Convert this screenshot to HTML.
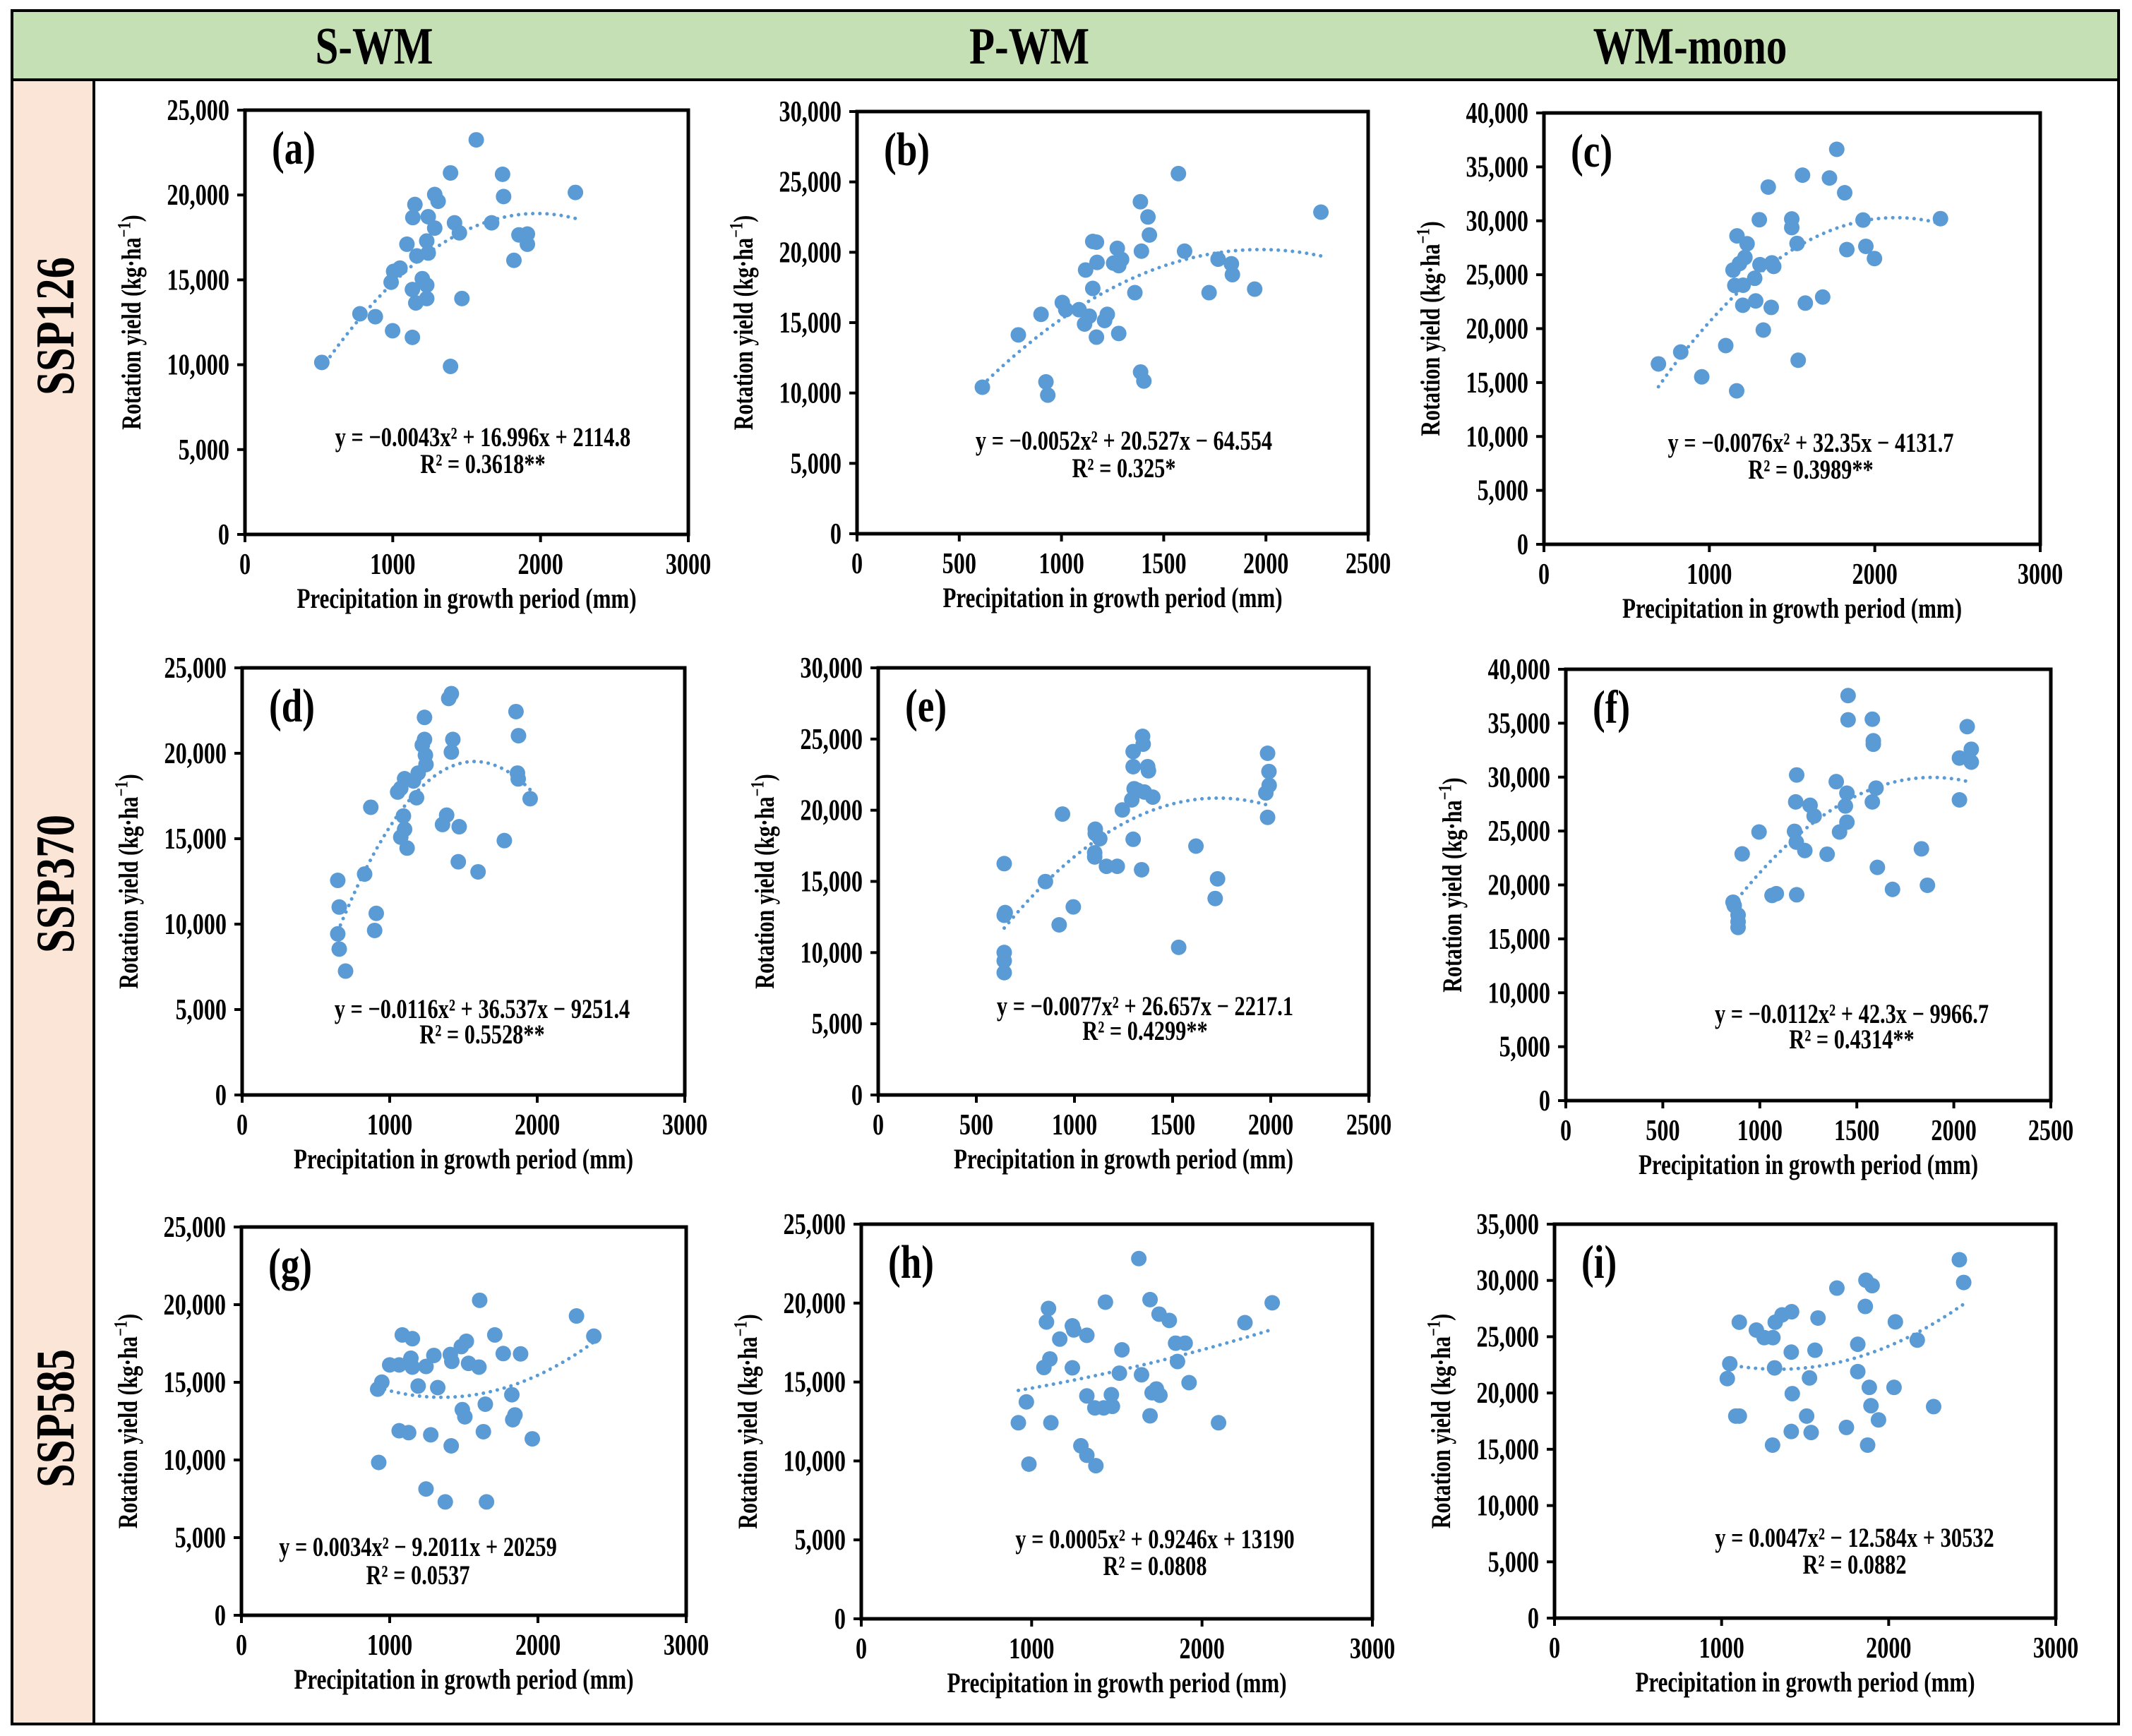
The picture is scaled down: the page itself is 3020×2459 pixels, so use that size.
<!DOCTYPE html>
<html><head><meta charset="utf-8">
<style>
html,body{margin:0;padding:0;background:#fff;}
svg{display:block;font-family:"Liberation Serif",serif;font-weight:bold;}
</style></head>
<body>
<svg id="fig" width="3020" height="2459" viewBox="0 0 3020 2459" xmlns="http://www.w3.org/2000/svg">
<rect x="0" y="0" width="3020" height="2459" fill="#fff"/>
<rect x="17" y="15" width="2984" height="98" fill="#c5e0b4"/>
<rect x="17" y="113" width="116" height="2329" fill="#fbe5d6"/>
<rect x="17" y="15" width="2984" height="2427" fill="none" stroke="#000" stroke-width="4"/>
<line x1="17" y1="113" x2="3001" y2="113" stroke="#000" stroke-width="4"/>
<line x1="133" y1="113" x2="133" y2="2442" stroke="#000" stroke-width="4"/>
<text transform="translate(530,90) scale(0.95,1.2)" font-size="62" text-anchor="middle">S-WM</text>
<text transform="translate(1458,90) scale(0.95,1.2)" font-size="62" text-anchor="middle">P-WM</text>
<text transform="translate(2394,90) scale(0.95,1.2)" font-size="62" text-anchor="middle">WM-mono</text>
<text transform="translate(104,462) rotate(-90) scale(0.95,1.2)" font-size="64" text-anchor="middle">SSP126</text>
<text transform="translate(104,1252) rotate(-90) scale(0.95,1.2)" font-size="64" text-anchor="middle">SSP370</text>
<text transform="translate(104,2009) rotate(-90) scale(0.95,1.2)" font-size="64" text-anchor="middle">SSP585</text>
<g id="panels"></g>
</svg>
<script>
// ---- data (precipitation mm, rotation yield kg/ha) ----
const aX=[520,778,882,999,989,1006,1049,1096,1136,1150,1133,1156,1133,1163,1200,1230,1230,1230,1240,1240,1284,1284,1307,1391,1391,1418,1451,1468,1565,1669,1743,1750,1820,1854,1911,1911,2236];
const aY=[10136,13000,12830,12000,14860,15500,15690,17100,18670,19440,14430,13640,11610,16410,15070,14690,13900,17290,16580,18720,20030,18050,19630,21300,9900,18360,17770,13900,23250,18360,21220,19910,16150,17650,17700,17100,20150];
const bX=[613,789,900,924,933,1004,1021,1086,1118,1113,1136,1153,1153,1171,1174,1171,1211,1224,1255,1273,1280,1294,1280,1359,1386,1391,1387,1403,1423,1430,1572,1602,1722,1766,1831,1836,1945,2269];
const bY=[10410,14130,15590,10790,9850,16430,15920,15920,18740,14900,15460,17430,20770,20720,19280,13970,15150,15590,19230,20280,19050,19490,14230,17130,23590,20080,11490,10850,22510,21230,25590,20080,17130,19510,19180,18410,17380,22850];
const cX=[692,827,954,1099,1165,1143,1154,1204,1167,1182,1215,1228,1202,1274,1280,1302,1306,1326,1356,1378,1389,1374,1498,1498,1530,1537,1563,1580,1685,1726,1770,1818,1831,1929,1946,1998,2397];
const cY=[16730,17830,15530,18430,14230,25430,24000,24030,28600,26030,26600,27870,22170,24670,22570,30100,25930,19870,33130,26100,25770,21970,30170,29370,27900,17070,34230,22370,22930,33970,36630,32600,27330,30070,27630,26500,30200];
const dX=[648,658,648,658,701,830,872,909,898,1054,1075,1101,1093,1101,1075,1118,1161,1193,1182,1221,1236,1236,1242,1246,1358,1386,1400,1418,1418,1428,1471,1465,1599,1777,1856,1873,1866,1871,1952];
const dY=[12560,11000,9430,8540,7250,12930,16840,10630,9630,17730,17950,18510,16330,15550,15090,14450,18380,18840,17400,20480,20810,22100,19890,19340,15830,16380,23210,23490,20070,20810,15700,13650,13060,14890,22440,21030,18840,18500,17340];
const eX=[642,642,647,642,642,642,852,922,939,994,1103,1103,1106,1106,1129,1163,1218,1244,1292,1299,1299,1299,1304,1321,1342,1347,1350,1356,1373,1377,1399,1531,1619,1729,1717,1984,1991,1992,1975,1984];
const eY=[16250,12620,12810,10010,9420,8590,14990,11950,19730,13210,17010,16720,18670,18360,18000,16060,16060,20020,20730,24120,23060,17960,21510,21400,15820,25190,24640,21280,23060,22770,20920,10370,17480,15180,13800,24000,22720,21750,21210,19500];
const fX=[862,868,888,888,888,909,996,1063,1085,1190,1179,1188,1232,1185,1190,1259,1280,1347,1394,1411,1441,1449,1449,1455,1455,1580,1580,1585,1585,1599,1606,1684,1833,1864,2029,2029,2069,2090,2090];
const fY=[18400,18090,17210,16590,16060,22880,24910,19030,19190,19090,24970,23970,23190,27700,30200,27390,26390,22850,29580,24910,27320,28510,25820,37560,35310,27700,35370,33370,33050,28980,21630,19590,23350,19970,27890,31770,34680,32580,31390];
const gX=[919,947,926,1000,1064,1085,1064,1128,1153,1143,1153,1192,1245,1245,1277,1298,1324,1375,1409,1419,1415,1483,1517,1490,1507,1532,1602,1607,1645,1632,1653,1709,1766,1824,1845,1830,1883,1962,2260,2377];
const gY=[14560,15010,9840,16120,16120,18050,11880,11760,17810,16550,15980,14760,16020,8130,11620,16730,14660,7300,16790,16350,10910,17300,17640,13240,12780,16220,15980,20280,13590,11820,7300,18050,16850,14200,12900,12590,16830,11360,19270,17970];
const hX=[922,969,984,1072,1107,1087,1099,1113,1165,1239,1239,1247,1289,1324,1324,1324,1371,1377,1423,1433,1468,1474,1515,1530,1629,1645,1695,1695,1707,1732,1753,1748,1808,1845,1856,1901,1924,2097,2252,2412];
const hY=[12420,13740,9800,15920,16460,18800,19660,12420,17720,15900,18560,18300,10960,10360,14120,17960,13360,9700,13360,20060,14200,13460,15560,17040,22820,15460,20220,12860,14320,14560,14160,19300,18900,17460,16300,17460,14960,12420,18760,20020];
const iX=[1034,1049,1085,1106,1106,1208,1255,1307,1305,1317,1321,1362,1419,1417,1423,1417,1509,1526,1536,1559,1577,1690,1747,1815,1815,1860,1864,1901,1884,1894,1874,1939,2032,2040,2171,2269,2423,2449];
const iY=[21280,22600,17950,17950,26290,25590,24920,24920,15370,22230,26290,26940,27220,23630,19940,16580,17950,21340,16490,23800,26660,29320,16940,24330,21900,27690,30020,29540,20500,18870,15370,17610,20500,26320,24700,18790,31840,29820];
// trend coefficients [a,b,c] for y = a x^2 + b x + c
const aFit=[-0.0043,16.996,2114.8], bFit=[-0.0052,20.527,-64.554], cFit=[-0.0076,32.35,-4131.7];
const dFit=[-0.0116,36.537,-9251.4], eFit=[-0.0077,26.657,-2217.1], fFit=[-0.0112,42.3,-9966.7];
const gFit=[0.0034,-9.2011,20259], hFit=[0.0005,0.9246,13190], iFit=[0.0047,-12.584,30532];
// axis ranges
const xMaxes=[3000,2500,3000,3000,2500,2500,3000,3000,3000];
const yMaxes=[25000,30000,40000,25000,30000,40000,25000,25000,35000];
const labels=["(a)","(b)","(c)","(d)","(e)","(f)","(g)","(h)","(i)"];
const eqs=["y = \u22120.0043x\u00b2 + 16.996x + 2114.8","y = \u22120.0052x\u00b2 + 20.527x \u2212 64.554","y = \u22120.0076x\u00b2 + 32.35x \u2212 4131.7",
"y = \u22120.0116x\u00b2 + 36.537x \u2212 9251.4","y = \u22120.0077x\u00b2 + 26.657x \u2212 2217.1","y = \u22120.0112x\u00b2 + 42.3x \u2212 9966.7",
"y = 0.0034x\u00b2 \u2212 9.2011x + 20259","y = 0.0005x\u00b2 + 0.9246x + 13190","y = 0.0047x\u00b2 \u2212 12.584x + 30532"];
const r2s=["R\u00b2 = 0.3618**","R\u00b2 = 0.325*","R\u00b2 = 0.3989**","R\u00b2 = 0.5528**","R\u00b2 = 0.4299**","R\u00b2 = 0.4314**","R\u00b2 = 0.0537","R\u00b2 = 0.0808","R\u00b2 = 0.0882"];

// layout (pixel geometry, not data)
const boxes=[[347,156,975,757],[1214,158,1938,756],[2187,160,2890,771],
[343,946,970,1551],[1244,946,1939,1551],[2218,948,2905,1559],
[342,1738,972,2288],[1220,1734,1944,2293],[2202,1734,2912,2292]];
const eqPos=[[684,619,657],[1592,624,663],[2565,627,665],[683,1429,1465],[1622,1425,1460],[2623,1436,1472],[592,2191,2231],[1636,2180,2218],[2627,2178,2216]];
const XS=[aX,bX,cX,dX,eX,fX,gX,hX,iX], YS=[aY,bY,cY,dY,eY,fY,gY,hY,iY], FITS=[aFit,bFit,cFit,dFit,eFit,fFit,gFit,hFit,iFit];
const NS="http://www.w3.org/2000/svg";
const root=document.getElementById('panels');
function mk(tag,attrs,parent){const e=document.createElementNS(NS,tag);for(const k in attrs)e.setAttribute(k,attrs[k]);parent.appendChild(e);return e;}
function st(x,y,sx,sy,extra){return 'translate('+x+','+y+')'+(extra||'')+' scale('+sx+','+sy+')';}
const BLUE="#5b9bd5";
for(let p=0;p<9;p++){
  const [L,T,R,B]=boxes[p]; const xm=xMaxes[p], ym=yMaxes[p];
  const sx=v=>L+(v/xm)*(R-L), sy=v=>B-(v/ym)*(B-T);
  const g=mk('g',{},root);
  
  
  for(let v=0;v<=ym;v+=5000){
    const y=sy(v);
    const t=mk('line',{x1:L-11,y1:y,x2:L,y2:y,stroke:'#000','stroke-width':4},g);
    
    
    const tx=mk('text',{transform:st(L-22,y+14,0.92,1.22),'font-size':35,'text-anchor':'end'},g);
    
    
    tx.textContent=v.toLocaleString('en-US');
  }
  const xstep=xm===2500?500:1000;
  for(let v=0;v<=xm;v+=xstep){
    const x=sx(v);
    const t=mk('line',{x1:x,y1:B,x2:x,y2:B+11,stroke:'#000','stroke-width':4},g);
    
    
    const tx=mk('text',{transform:st(x,B+56,0.92,1.22),'font-size':35,'text-anchor':'middle'},g);
    
    
    tx.textContent=String(v);
  }
  const box=mk('rect',{x:L,y:T,width:R-L,height:B-T,fill:'none',stroke:'#000','stroke-width':5},g);
  
  
  const xt=mk('text',{transform:st((L+R)/2,B+104,0.94,1.22),'font-size':33,'text-anchor':'middle'},g);
  
  
  xt.textContent='Precipitation in growth period (mm)';
  const yt=mk('text',{transform:st(L-148,(T+B)/2,0.94,1.22,' rotate(-90)'),'font-size':32,'text-anchor':'middle'},g);
  
  
  yt.innerHTML='Rotation yield (kg\u00b7ha<tspan dy="-12" font-size="22">\u22121</tspan><tspan dy="12">)</tspan>';
  const lb=mk('text',{transform:st(L+38,T+76,0.95,1.2),'font-size':56},g);
  
  
  lb.textContent=labels[p];
  const xs=XS[p], ys=YS[p];
  for(let k=0;k<xs.length;k++){
    const c=mk('circle',{cx:sx(xs[k]),cy:sy(ys[k]),r:11,fill:BLUE},g);
    
    
  }
  const f=FITS[p]; const x0=Math.min(...xs), x1=Math.max(...xs);
  let d='';
  for(let k=0;k<=80;k++){const x=x0+(x1-x0)*k/80;const y=f[0]*x*x+f[1]*x+f[2];d+=(k?'L':'M')+sx(x).toFixed(1)+','+sy(y).toFixed(1);}
  const tl=mk('path',{d:d,fill:'none',stroke:BLUE,'stroke-width':5,'stroke-dasharray':'0.1 10','stroke-linecap':'round'},g);
  
  
  const ep=eqPos[p];
  const e1=mk('text',{transform:st(ep[0],ep[1]+13,0.95,1.22),'font-size':32,'text-anchor':'middle'},g);
  
  
  e1.textContent=eqs[p];
  const e2=mk('text',{transform:st(ep[0],ep[2]+13,0.95,1.22),'font-size':32,'text-anchor':'middle'},g);
  
  
  e2.textContent=r2s[p];
}
</script>
</body></html>
